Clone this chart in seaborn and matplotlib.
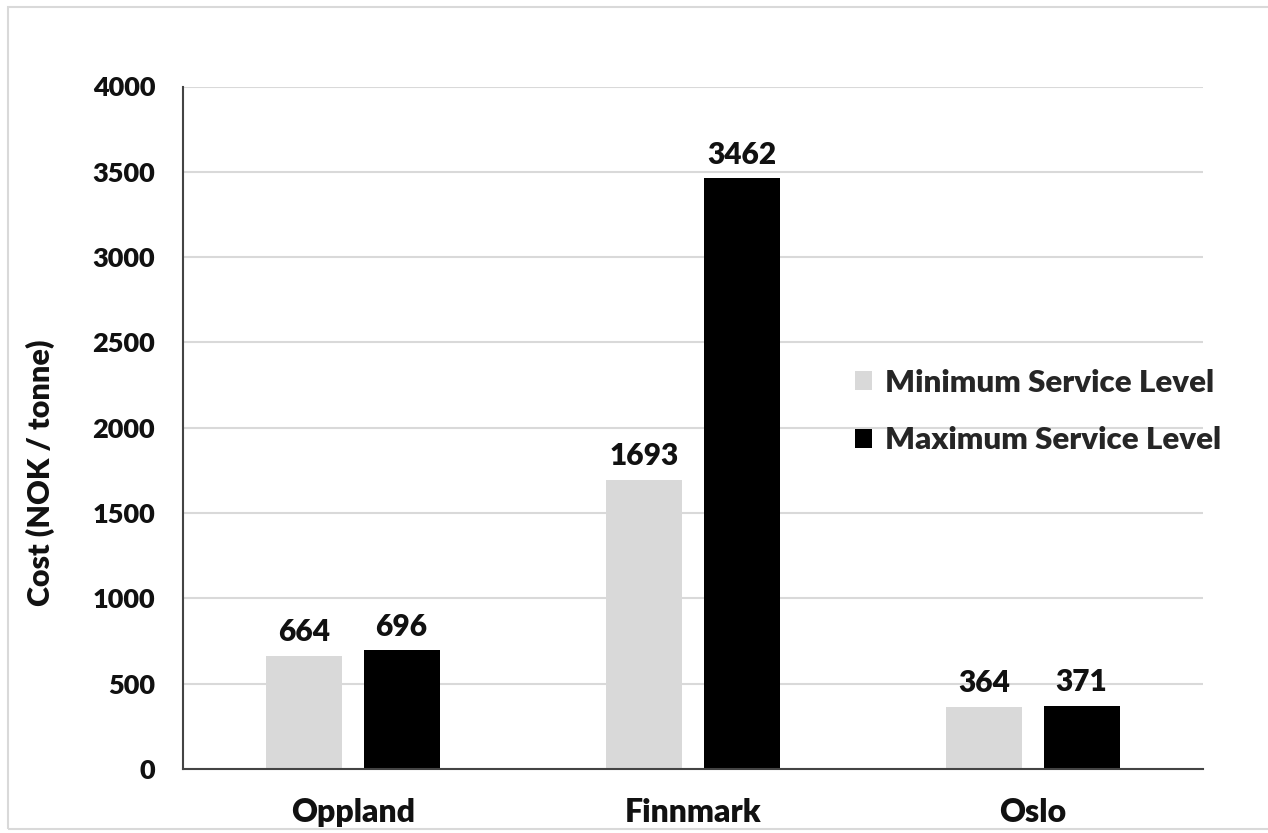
import matplotlib
matplotlib.use("Agg")
import matplotlib.pyplot as plt
from matplotlib.patches import Rectangle, Patch
import seaborn as sns
import pandas as pd

regions = ["Oppland", "Finnmark", "Oslo"]
min_level = [664, 1693, 364]
max_level = [696, 3462, 371]
series_names = ["Minimum Service Level", "Maximum Service Level"]
y_ticks = [0, 500, 1000, 1500, 2000, 2500, 3000, 3500, 4000]

df = pd.DataFrame({
    "Region": regions * 2,
    "Cost": min_level + max_level,
    "Level": [series_names[0]] * 3 + [series_names[1]] * 3,
})

sns.set_theme(style="white")
plt.rcParams["font.family"] = ["Lato", "DejaVu Sans"]
WEIGHT = "heavy"
plt.rcParams["font.weight"] = WEIGHT
TEXT = "#111111"

W, H = 1268, 833
fig = plt.figure(figsize=(W / 100, H / 100), dpi=100)
ax = fig.add_axes([183 / W, 1 - 769 / H, (1203 - 183) / W, (769 - 86.5) / H])

colors = {series_names[0]: "#d9d9d9", series_names[1]: "#000000"}
sns.barplot(data=df, x="Region", y="Cost", hue="Level", order=regions,
            hue_order=series_names, palette=colors, width=0.572, gap=0.217,
            linewidth=0, saturation=1, legend=False, ax=ax, zorder=3)

for cont in ax.containers:
    ax.bar_label(cont, fmt="%d", padding=7, fontsize=21.5, fontweight=WEIGHT,
                 color=TEXT)

ax.set_xlim(-0.5, 2.5)
ax.set_ylim(0, 4000)
ax.set_yticks(y_ticks)
ax.set_yticklabels([str(v) for v in y_ticks])
ax.yaxis.grid(True, color="#d9d9d9", linewidth=1.5, zorder=0)
ax.set_axisbelow(True)
ax.tick_params(axis="y", length=0, pad=20, labelsize=19.5, labelcolor=TEXT)
ax.tick_params(axis="x", length=0, pad=21, labelsize=23, labelcolor=TEXT)
for lab in ax.get_xticklabels() + ax.get_yticklabels():
    lab.set_fontweight(WEIGHT)

ax.set_xlabel("")
ax.set_ylabel("")
fig.text(40 / W, 1 - 473 / H, "Cost (NOK / tonne)", rotation=90,
         ha="center", va="center", fontsize=22, fontweight=WEIGHT, color=TEXT)

for side in ["top", "right"]:
    ax.spines[side].set_visible(False)
for side in ["left", "bottom"]:
    ax.spines[side].set_color("#444444")
    ax.spines[side].set_linewidth(1.5)
    ax.spines[side].set_zorder(4)

handles = [Patch(facecolor=colors[n], edgecolor="none", label=n) for n in series_names]
fig.legend(handles=handles, loc="center left",
           bbox_to_anchor=(855 / W, 1 - 411.5 / H), frameon=False,
           prop={"weight": WEIGHT, "size": 22.5},
           handlelength=0.55, handleheight=0.55, handletextpad=0.4,
           labelspacing=0.95, borderpad=0, borderaxespad=0)

fig.patches.append(Rectangle((8 / W, 1 - 829 / H), 1.2, (829 - 7) / H,
                             transform=fig.transFigure, fill=False,
                             edgecolor="#d9d9d9", linewidth=1.5, zorder=0))

fig.savefig("out.png", dpi=100, facecolor="white")
